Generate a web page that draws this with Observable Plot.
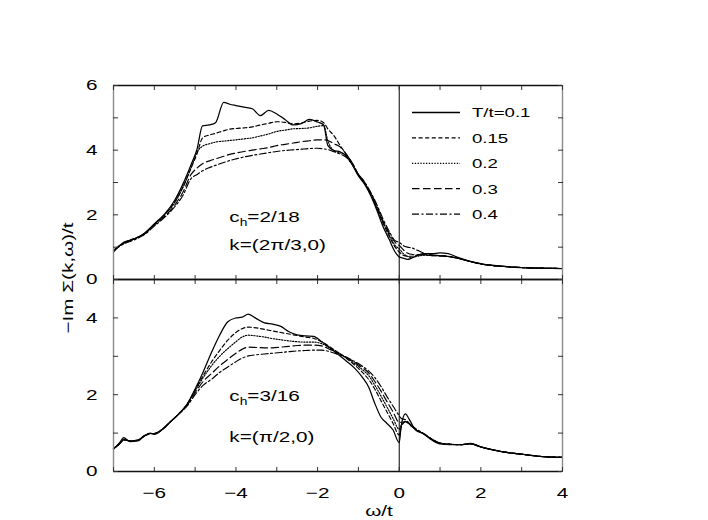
<!DOCTYPE html>
<html>
<head>
<meta charset="utf-8">
<script src="https://cdn.jsdelivr.net/npm/d3@7"></script>
<script src="https://cdn.jsdelivr.net/npm/@observablehq/plot@0.6"></script>
<style>
  html, body { margin: 0; padding: 0; background: #fff; }
  #wrap { position: relative; width: 708px; height: 520px; overflow: hidden; background: #fff; }
  #wrap > svg { position: absolute; left: 0; overflow: visible; background: transparent !important; }
</style>
</head>
<body>
<div id="wrap"></div>
<script>
// ---------------- data ----------------
const temperatures = ["T/t=0.1", "0.15", "0.2", "0.3", "0.4"];

// upper panel: c_h = 2/18, k = (2pi/3, 0)
const omegaTop = [-7, -6.75, -6.5, -6.25, -6, -5.75, -5.5, -5.3, -5.1, -4.95, -4.82, -4.65, -4.5, -4.3, -4.15, -4.0, -3.8, -3.6, -3.4, -3.2, -3.0, -2.8, -2.6, -2.4, -2.2, -2.0, -1.85, -1.75, -1.6, -1.45, -1.3, -1.15, -1.0, -0.85, -0.7, -0.55, -0.4, -0.25, -0.1, 0, 0.1, 0.2, 0.3, 0.45, 0.6, 0.8, 1.0, 1.2, 1.4, 1.7, 2.0, 2.5, 3.0, 3.5, 4.0];
const top_T010 = [0.85, 1.15, 1.25, 1.42, 1.72, 2.02, 2.45, 2.95, 3.55, 4.05, 4.75, 4.78, 4.85, 5.48, 5.42, 5.38, 5.33, 5.28, 5.07, 5.23, 5.12, 4.95, 4.78, 4.82, 4.95, 4.87, 4.78, 4.15, 3.99, 3.95, 3.82, 3.55, 3.2, 2.95, 2.6, 2.15, 1.65, 1.25, 0.85, 0.7, 0.66, 0.62, 0.66, 0.75, 0.8, 0.8, 0.82, 0.8, 0.7, 0.58, 0.49, 0.41, 0.37, 0.35, 0.34];
const top_T015 = [0.9, 1.13, 1.27, 1.4, 1.72, 2.0, 2.4, 2.85, 3.45, 3.9, 4.38, 4.47, 4.52, 4.6, 4.65, 4.67, 4.69, 4.72, 4.78, 4.83, 4.88, 4.86, 4.81, 4.84, 4.9, 4.92, 4.85, 4.66, 4.45, 4.15, 3.88, 3.6, 3.25, 2.98, 2.65, 2.22, 1.75, 1.35, 1.0, 0.85, 0.75, 0.72, 0.72, 0.76, 0.78, 0.75, 0.74, 0.72, 0.67, 0.57, 0.48, 0.41, 0.37, 0.35, 0.34];
const top_T020 = [0.9, 1.12, 1.25, 1.42, 1.7, 2.0, 2.38, 2.85, 3.45, 3.95, 4.12, 4.2, 4.25, 4.28, 4.3, 4.32, 4.35, 4.38, 4.44, 4.5, 4.58, 4.62, 4.66, 4.67, 4.69, 4.74, 4.76, 4.3, 3.98, 3.92, 3.85, 3.58, 3.22, 2.97, 2.65, 2.22, 1.78, 1.4, 1.05, 0.95, 0.8, 0.72, 0.68, 0.72, 0.75, 0.74, 0.73, 0.71, 0.67, 0.57, 0.48, 0.41, 0.37, 0.35, 0.34];
const top_T030 = [0.9, 1.12, 1.25, 1.4, 1.68, 1.95, 2.3, 2.7, 3.25, 3.45, 3.58, 3.67, 3.73, 3.81, 3.87, 3.91, 3.96, 4.0, 4.04, 4.08, 4.14, 4.18, 4.22, 4.26, 4.29, 4.32, 4.32, 4.3, 4.2, 4.1, 3.88, 3.6, 3.25, 3.0, 2.68, 2.28, 1.82, 1.45, 1.15, 1.05, 0.92, 0.82, 0.78, 0.76, 0.76, 0.74, 0.73, 0.71, 0.67, 0.57, 0.48, 0.41, 0.37, 0.35, 0.34];
const top_T040 = [0.9, 1.1, 1.22, 1.38, 1.65, 1.92, 2.25, 2.6, 3.12, 3.25, 3.36, 3.46, 3.53, 3.62, 3.68, 3.73, 3.79, 3.84, 3.88, 3.92, 3.96, 3.99, 4.01, 4.03, 4.05, 4.06, 4.04, 4.02, 3.95, 3.88, 3.78, 3.55, 3.25, 3.02, 2.7, 2.32, 1.88, 1.5, 1.2, 1.15, 1.05, 1.0, 0.98, 0.9, 0.82, 0.76, 0.73, 0.71, 0.67, 0.57, 0.48, 0.41, 0.37, 0.35, 0.34];

// lower panel: c_h = 3/16, k = (pi/2, 0)
const omegaBot = [-7, -6.85, -6.75, -6.6, -6.4, -6.25, -6.1, -6, -5.8, -5.6, -5.4, -5.2, -5, -4.8, -4.6, -4.4, -4.2, -4.0, -3.85, -3.7, -3.5, -3.3, -3.1, -2.9, -2.7, -2.5, -2.3, -2.1, -1.9, -1.7, -1.5, -1.3, -1.1, -0.9, -0.75, -0.6, -0.45, -0.3, -0.15, 0, 0.05, 0.15, 0.25, 0.4, 0.6, 0.8, 1.0, 1.25, 1.5, 1.75, 2.0, 2.5, 3.0, 3.5, 4.0];
const bot_T010 = [0.58, 0.75, 0.88, 0.78, 0.8, 0.92, 1.0, 0.97, 1.1, 1.3, 1.5, 1.75, 2.15, 2.6, 3.1, 3.55, 3.9, 4.0, 4.02, 4.1, 3.98, 3.87, 3.84, 3.78, 3.64, 3.56, 3.53, 3.52, 3.38, 3.22, 3.05, 2.88, 2.7, 2.45, 2.2, 1.78, 1.42, 1.25, 1.08, 0.75, 1.2, 1.5, 1.35, 1.08, 0.98, 0.82, 0.72, 0.7, 0.7, 0.73, 0.64, 0.52, 0.45, 0.39, 0.37];
const bot_T015 = [0.6, 0.72, 0.84, 0.79, 0.82, 0.93, 0.99, 0.98, 1.1, 1.3, 1.5, 1.75, 2.12, 2.5, 2.85, 3.15, 3.42, 3.62, 3.72, 3.76, 3.74, 3.7, 3.66, 3.62, 3.58, 3.54, 3.5, 3.47, 3.38, 3.25, 3.1, 2.95, 2.78, 2.58, 2.4, 2.15, 1.85, 1.55, 1.25, 0.95, 1.15, 1.3, 1.25, 1.1, 0.98, 0.84, 0.74, 0.71, 0.7, 0.72, 0.64, 0.52, 0.45, 0.39, 0.37];
const bot_T020 = [0.6, 0.72, 0.83, 0.8, 0.82, 0.93, 0.99, 0.99, 1.1, 1.3, 1.5, 1.74, 2.1, 2.45, 2.75, 3.0, 3.2, 3.38, 3.5, 3.55, 3.53, 3.5, 3.46, 3.43, 3.4, 3.38, 3.37, 3.37, 3.33, 3.22, 3.1, 2.97, 2.82, 2.65, 2.5, 2.25, 1.97, 1.68, 1.38, 1.1, 1.2, 1.3, 1.23, 1.1, 0.98, 0.84, 0.74, 0.71, 0.7, 0.72, 0.64, 0.52, 0.45, 0.39, 0.37];
const bot_T030 = [0.6, 0.72, 0.82, 0.8, 0.82, 0.92, 0.98, 0.99, 1.1, 1.3, 1.5, 1.72, 2.05, 2.35, 2.55, 2.75, 2.92, 3.08, 3.18, 3.24, 3.23, 3.22, 3.22, 3.24, 3.26, 3.28, 3.29, 3.29, 3.27, 3.18, 3.08, 2.98, 2.85, 2.7, 2.57, 2.35, 2.1, 1.82, 1.55, 1.28, 1.28, 1.3, 1.22, 1.1, 0.98, 0.84, 0.74, 0.71, 0.7, 0.72, 0.64, 0.52, 0.45, 0.39, 0.37];
const bot_T040 = [0.6, 0.72, 0.82, 0.8, 0.82, 0.92, 0.98, 0.99, 1.1, 1.3, 1.5, 1.7, 2.0, 2.25, 2.4, 2.58, 2.72, 2.86, 2.95, 3.01, 3.04, 3.06, 3.08, 3.1, 3.12, 3.14, 3.15, 3.16, 3.16, 3.12, 3.05, 2.97, 2.87, 2.74, 2.62, 2.45, 2.22, 1.95, 1.7, 1.45, 1.38, 1.35, 1.25, 1.12, 0.99, 0.84, 0.74, 0.71, 0.7, 0.72, 0.64, 0.52, 0.45, 0.39, 0.37];

const xTickLabels = [-6, -4, -2, 0, 2, 4];
const yTickLabelsTop = [0, 2, 4, 6];
const yTickLabelsBot = [0, 2, 4];

// ---------------- style ----------------
const FONT = "'Liberation Sans', Arial, Helvetica, sans-serif";
const SX = 1.38; // horizontal stretch of the lettering
const DASH = [null, "4,2.6", "1.3,1.5", "7.5,3.5", "7,2.5,2,2.5"];
const X_DOMAIN = [-7, 4];
const fmtInt = d => (d < 0 ? "\u2212" + Math.abs(d) : String(d));

function stretchText(svg) {
  svg.querySelectorAll("text").forEach(t => {
    const tr = t.getAttribute("transform") || "";
    t.setAttribute("transform", tr + ` scale(${SX},1)`);
  });
}

function makePanel({omega, series, yMax, yLabels, height, marginTop, marginBottom, xLabels}) {
  const marks = [];
  series.forEach((vals, i) => {
    const rows = omega.map((w, j) => ({w, v: vals[j]}));
    marks.push(Plot.line(rows, {
      x: "w", y: "v", stroke: "#000",
      strokeWidth: i === 0 ? 1.25 : 1.15,
      strokeDasharray: DASH[i],
      curve: "monotone-x"
    }));
  });
  const xt = d3.range(X_DOMAIN[0], X_DOMAIN[1] + 1);
  const yt = d3.range(0, yMax + 1);
  marks.push(
    Plot.ruleX([0], {stroke: "#000", strokeWidth: 1}),
    Plot.ruleX(X_DOMAIN, {stroke: "#8a8a8a", strokeWidth: 1.4}),
    Plot.ruleY([0, yMax], {stroke: "#111", strokeWidth: 1.4}),
    Plot.axisY({ticks: yt, anchor: "left", tickSize: -5, tickFormat: () => "", label: null, stroke: "#333"}),
    Plot.axisY({ticks: yt, anchor: "right", tickSize: -5, tickFormat: () => "", label: null, stroke: "#333"}),
    Plot.axisX({ticks: xt, anchor: "top", tickSize: -4, tickFormat: () => "", label: null, stroke: "#333"}),
    Plot.axisX({ticks: xt, anchor: "bottom", tickSize: -4, tickFormat: () => "", label: null, stroke: "#333"}),
    Plot.axisY({ticks: yLabels, anchor: "left", tickSize: 0, tickPadding: 16, tickFormat: fmtInt, label: null, fill: "#000"})
  );
  if (xLabels) {
    marks.push(Plot.axisX({ticks: xLabels, anchor: "bottom", tickSize: 0, tickPadding: 16, tickFormat: fmtInt, label: null, fill: "#000"}));
  }
  const svg = Plot.plot({
    width: 708, height, marginTop, marginBottom, marginLeft: 113, marginRight: 146,
    x: {domain: X_DOMAIN},
    y: {domain: [0, yMax]},
    style: {fontFamily: FONT, fontSize: "15px", background: "transparent", color: "#000", overflow: "visible"},
    marks
  });
  stretchText(svg);
  return svg;
}

function annotate(svg, x, lines) {
  const sx = svg.scale("x"), sy = svg.scale("y");
  const g = d3.select(svg).append("g")
    .attr("font-family", FONT).attr("font-size", 15).attr("fill", "#000")
    .attr("text-anchor", "start");
  lines.forEach(([parts, yv]) => {
    const t = g.append("text")
      .attr("text-anchor", "start")
      .attr("transform", `translate(${sx.apply(x)},${sy.apply(yv)}) scale(${SX},1)`);
    parts.forEach(p => {
      const ts = t.append("tspan").text(p.s);
      if (p.sub) ts.attr("font-size", 10).attr("dy", 4);
      if (p.up) ts.attr("dy", -4);
    });
  });
}

const wrap = document.getElementById("wrap");

const botSvg = makePanel({
  omega: omegaBot,
  series: [bot_T010, bot_T015, bot_T020, bot_T030, bot_T040],
  yMax: 5, yLabels: yTickLabelsBot, height: 241, marginTop: 0, marginBottom: 49, xLabels: xTickLabels
});
botSvg.style.top = "279px";

const topSvg = makePanel({
  omega: omegaTop,
  series: [top_T010, top_T015, top_T020, top_T030, top_T040],
  yMax: 6, yLabels: yTickLabelsTop, height: 279, marginTop: 85, marginBottom: 0, xLabels: null
});
topSvg.style.top = "0px";

wrap.append(botSvg);
wrap.append(topSvg);

annotate(topSvg, -4.15, [
  [[{s: "c"}, {s: "h", sub: true}, {s: "=2/18", up: true}], 1.76],
  [[{s: "k=(2π/3,0)"}], 0.9]
]);
annotate(botSvg, -4.15, [
  [[{s: "c"}, {s: "h", sub: true}, {s: "=3/16", up: true}], 1.83],
  [[{s: "k=(π/2,0)"}], 0.75]
]);

// legend (upper panel)
{
  const g = d3.select(topSvg).append("g")
    .attr("font-family", FONT).attr("font-size", 13.5).attr("fill", "#000")
    .attr("text-anchor", "start");
  temperatures.forEach((lab, i) => {
    const y = 112.5 + 25.4 * i;
    g.append("line").attr("x1", 412).attr("x2", 460).attr("y1", y).attr("y2", y)
      .attr("stroke", "#000").attr("stroke-width", i === 0 ? 1.4 : 1.3)
      .attr("stroke-dasharray", DASH[i]);
    g.append("text").attr("text-anchor", "start")
      .attr("transform", `translate(472,${y}) scale(${SX},1)`)
      .attr("dy", "0.36em").text(lab);
  });
}

// axis titles
{
  const ov = d3.create("svg").attr("width", 708).attr("height", 520)
    .style("top", "0px").style("pointer-events", "none")
    .attr("font-family", FONT).attr("font-size", 15).attr("fill", "#000");
  ov.append("text").attr("text-anchor", "middle").attr("dy", "0.35em")
    .attr("transform", `translate(68,278) rotate(-90) scale(${SX},1)`)
    .text("−Im Σ(k,ω)/t");
  ov.append("text").attr("text-anchor", "middle")
    .attr("transform", `translate(379,516) scale(${SX},1)`)
    .text("ω/t");
  wrap.append(ov.node());
}
</script>
</body>
</html>
